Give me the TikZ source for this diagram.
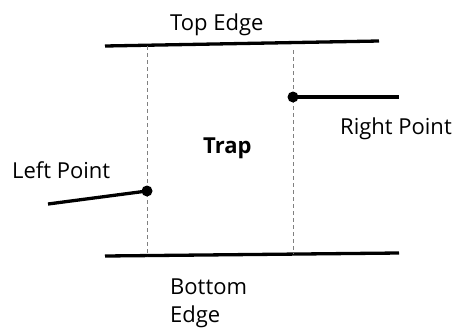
\documentclass[tikz,border=0pt]{standalone}
\usepackage{fontspec}
\setmainfont{Open Sans}
\begin{document}
\begin{tikzpicture}[x=1pt,y=-1pt,
  edge/.style={line width=3.3pt},
  guide/.style={gray,line width=0.7pt,dash pattern=on 4pt off 3pt},
  dot/.style={circle,fill=black,inner sep=0pt,minimum size=11pt},
  lbl/.style={anchor=base west,inner sep=0pt,font=\fontsize{22}{28}\selectfont}]
\useasboundingbox (0,0) rectangle (457,327);
% edges
\coordinate (tl) at (105,46);
\coordinate (tr) at (379,41);
\coordinate (bl) at (105,256);
\coordinate (br) at (399,253);
\draw[edge] (tl) -- (tr);
\draw[edge] (bl) -- (br);
% guides
\coordinate (gl1) at (147,46);
\coordinate (gl2) at (147,256);
\coordinate (gr1) at (293,50);
\coordinate (gr2) at (293,254);
\draw[guide] (gl1) -- (gl2);
\draw[guide] (gr1) -- (gr2);
% points
\node[dot] (lp) at (147,191) {};
\node[dot] (rp) at (293,97) {};
\coordinate (lend) at (48,204);
\coordinate (rend) at (399,97);
\draw[edge] (lend) -- (lp.center);
\draw[edge] (rp.center) -- (rend);
% labels
\node[lbl] (ttop) at (170,30) {Top Edge};
\node[lbl] (tright) at (340,134) {Right Point};
\node[lbl,font=\fontsize{22}{28}\selectfont\bfseries] (ttrap) at (203,153) {Trap};
\node[lbl] (tleft) at (12,178) {Left Point};
\node[lbl,align=left] (tbottom) at (170,322) {Bottom\\Edge};
\end{tikzpicture}
\end{document}
